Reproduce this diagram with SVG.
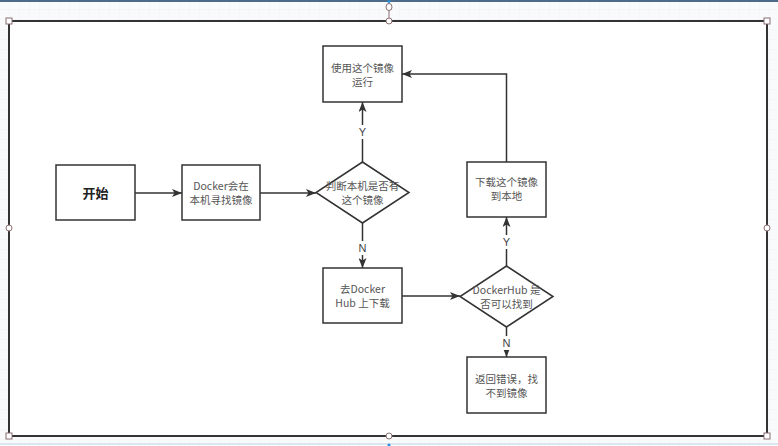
<svg xmlns="http://www.w3.org/2000/svg" width="778" height="446" viewBox="0 0 778 446">
<defs>
<pattern id="grid" width="10" height="10" patternUnits="userSpaceOnUse">
<path d="M10,0 V10 M0,10 H10" fill="none" stroke="#eef0f2" stroke-width="0.6"/>
</pattern>
<marker id="arr" markerWidth="11" markerHeight="8" refX="10" refY="4" orient="auto" markerUnits="userSpaceOnUse">
<path d="M0,0 L10,4 L0,8 L2.5,4 Z" fill="#333"/>
</marker>
</defs>
<style>
.node{fill:#fff;stroke:#333;stroke-width:1.5}
.t{font-family:"Noto Sans CJK SC","Liberation Sans",sans-serif;font-size:10.5px;fill:#555;text-anchor:middle}
.b{font-family:"Noto Sans CJK SC","Liberation Sans",sans-serif;font-size:13px;font-weight:bold;fill:#222;text-anchor:middle}
.edge{fill:none;stroke:#333;stroke-width:1.5}
.lbl{font-family:"Liberation Sans",sans-serif;font-size:11px;fill:#444;text-anchor:middle}
.h{fill:#fff;stroke:#8a6f72;stroke-width:1}
</style>
<rect width="778" height="446" fill="#f9fafb"/>
<rect width="778" height="446" fill="url(#grid)"/>
<line x1="0" y1="1" x2="778" y2="1" stroke="#4d6a88" stroke-width="2"/>
<line x1="0" y1="444" x2="778" y2="444" stroke="#cfe0ee" stroke-width="1.5"/>
<g id="frame">
<rect x="9" y="21" width="758" height="415" fill="#fff" stroke="#333" stroke-width="2"/>
<line x1="389" y1="10" x2="389" y2="21" stroke="#8a6f72" stroke-width="1"/>
<ellipse cx="389" cy="7" rx="3" ry="3.5" class="h"/>
<circle cx="389" cy="1.5" r="1.5" fill="#2a8fe0"/>
<circle cx="389" cy="445" r="1.5" fill="#2a8fe0"/>
<rect x="6" y="18" width="6" height="6" class="h"/>
<rect x="764" y="18" width="6" height="6" class="h"/>
<rect x="6" y="433" width="6" height="6" class="h"/>
<rect x="764" y="433" width="6" height="6" class="h"/>
<circle cx="389" cy="21" r="3" class="h"/>
<circle cx="389" cy="436" r="3" class="h"/>
<circle cx="9" cy="228" r="3" class="h"/>
<circle cx="767" cy="228" r="3" class="h"/>
</g>
<g id="connectors">
<path class="edge" d="M135,193 H182" marker-end="url(#arr)"/>
<path class="edge" d="M260,193 H316" marker-end="url(#arr)"/>
<path class="edge" d="M362.5,162 V102" marker-end="url(#arr)"/>
<path class="edge" d="M362.5,223 V268" marker-end="url(#arr)"/>
<path class="edge" d="M402,296 H460" marker-end="url(#arr)"/>
<path class="edge" d="M506.5,266 V217" marker-end="url(#arr)"/>
<path class="edge" d="M506.5,162 V74 H402" marker-end="url(#arr)"/>
<path class="edge" d="M506.5,327 V357" marker-end="url(#arr)"/>
<rect x="357" y="125" width="11" height="14" fill="#fff"/>
<text class="lbl" x="362.5" y="136">Y</text>
<rect x="357" y="241" width="11" height="14" fill="#fff"/>
<text class="lbl" x="362.5" y="252">N</text>
<rect x="501" y="235" width="11" height="14" fill="#fff"/>
<text class="lbl" x="506.5" y="246">Y</text>
<rect x="501" y="336" width="11" height="14" fill="#fff"/>
<text class="lbl" x="506.5" y="347">N</text>
</g>
<g id="start">
<rect class="node" x="56" y="165" width="79" height="55"/>
<text class="b" x="95.5" y="197.5">开始</text>
</g>
<g id="search">
<rect class="node" x="182" y="165" width="78" height="55"/>
<text class="t" x="221" y="190">Docker会在</text>
<text class="t" x="221" y="204">本机寻找镜像</text>
</g>
<g id="check-local">
<polygon class="node" points="362.5,162 409,192.5 362.5,223 316,192.5"/>
<text class="t" x="362.5" y="190">判断本机是否有</text>
<text class="t" x="362.5" y="204">这个镜像</text>
</g>
<g id="run">
<rect class="node" x="323" y="46" width="79" height="56"/>
<text class="t" x="362.5" y="72">使用这个镜像</text>
<text class="t" x="362.5" y="86">运行</text>
</g>
<g id="goto-hub">
<rect class="node" x="323" y="268" width="79" height="55"/>
<text class="t" x="362.5" y="293">去Docker</text>
<text class="t" x="362.5" y="307">Hub 上下载</text>
</g>
<g id="check-hub">
<polygon class="node" points="506.5,266 553,296.5 506.5,327 460,296.5"/>
<text class="t" x="506.5" y="294">DockerHub 是</text>
<text class="t" x="506.5" y="308">否可以找到</text>
</g>
<g id="download">
<rect class="node" x="467" y="162" width="79" height="55"/>
<text class="t" x="506.5" y="186">下载这个镜像</text>
<text class="t" x="506.5" y="200">到本地</text>
</g>
<g id="error">
<rect class="node" x="467" y="357" width="79" height="56"/>
<text class="t" x="506.5" y="383">返回错误，找</text>
<text class="t" x="506.5" y="397">不到镜像</text>
</g>
</svg>
